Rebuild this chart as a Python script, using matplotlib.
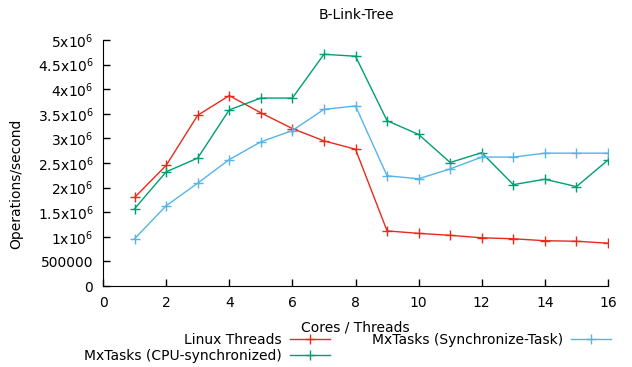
import matplotlib
matplotlib.use("Agg")
import matplotlib.pyplot as plt

cores = list(range(1, 17))
linux_threads = [1.80e6, 2.45e6, 3.47e6, 3.87e6, 3.52e6, 3.20e6, 2.95e6, 2.78e6,
                 1.12e6, 1.07e6, 1.03e6, 0.98e6, 0.96e6, 0.92e6, 0.91e6, 0.87e6]
mx_cpu_sync = [1.57e6, 2.32e6, 2.60e6, 3.58e6, 3.82e6, 3.82e6, 4.71e6, 4.67e6,
               3.36e6, 3.08e6, 2.51e6, 2.71e6, 2.06e6, 2.17e6, 2.02e6, 2.56e6]
mx_sync_task = [0.96e6, 1.63e6, 2.09e6, 2.57e6, 2.93e6, 3.16e6, 3.59e6, 3.66e6,
                2.24e6, 2.18e6, 2.38e6, 2.62e6, 2.62e6, 2.70e6, 2.70e6, 2.70e6]

xticks = [0, 2, 4, 6, 8, 10, 12, 14, 16]
yticks = [0, 0.5e6, 1e6, 1.5e6, 2e6, 2.5e6, 3e6, 3.5e6, 4e6, 4.5e6, 5e6]
ytick_labels = ["0", "500000", r"1x10$^{6}$", r"1.5x10$^{6}$", r"2x10$^{6}$",
                r"2.5x10$^{6}$", r"3x10$^{6}$", r"3.5x10$^{6}$", r"4x10$^{6}$",
                r"4.5x10$^{6}$", r"5x10$^{6}$"]

plt.rcParams['font.family'] = ['DejaVu Sans']
plt.rcParams['mathtext.default'] = 'regular'

W, H = 632, 367
fig = plt.figure(figsize=(W/100, H/100), dpi=100)
ax = fig.add_axes([103/W, 1-286/H, (608-103)/W, (286-40)/H])

ms = 7.5
ax.plot(cores, linux_threads, color='#e8291c', marker='+', markersize=ms, lw=1,
        label='Linux Threads')
ax.plot(cores, mx_cpu_sync, color='#009e73', marker='+', markersize=ms, lw=1,
        label='MxTasks (CPU-synchronized)')
ax.plot(cores, mx_sync_task, color='#56b4e9', marker='+', markersize=ms, lw=1,
        label='MxTasks (Synchronize-Task)')

ax.set_xlim(0, 16)
ax.set_ylim(0, 5e6)
ax.set_xticks(xticks)
ax.set_yticks(yticks)
ax.set_yticklabels(ytick_labels)
ax.tick_params(direction='in', length=5, labelsize=10, width=1, pad=7)
ax.spines['top'].set_visible(False)
ax.spines['right'].set_visible(False)

fig.text(356/W, 1-15/H, 'B-Link-Tree', fontsize=10, ha='center', va='center')
ax.set_xlabel('Cores / Threads', fontsize=10, labelpad=8)
ax.set_ylabel('Operations/second', fontsize=10)
ax.yaxis.set_label_coords(16/W, 0.5, transform=fig.transFigure)
ax.yaxis.label.set_va('center')

leg = fig.legend(loc='upper center', bbox_to_anchor=(0.550, 1-333/H), ncol=2,
                 markerfirst=False, frameon=False, fontsize=10, handlelength=2.9,
                 columnspacing=3.0, labelspacing=0.15, handletextpad=0.6,
                 borderaxespad=0, borderpad=0)

fig.savefig('out.png', dpi=100)
